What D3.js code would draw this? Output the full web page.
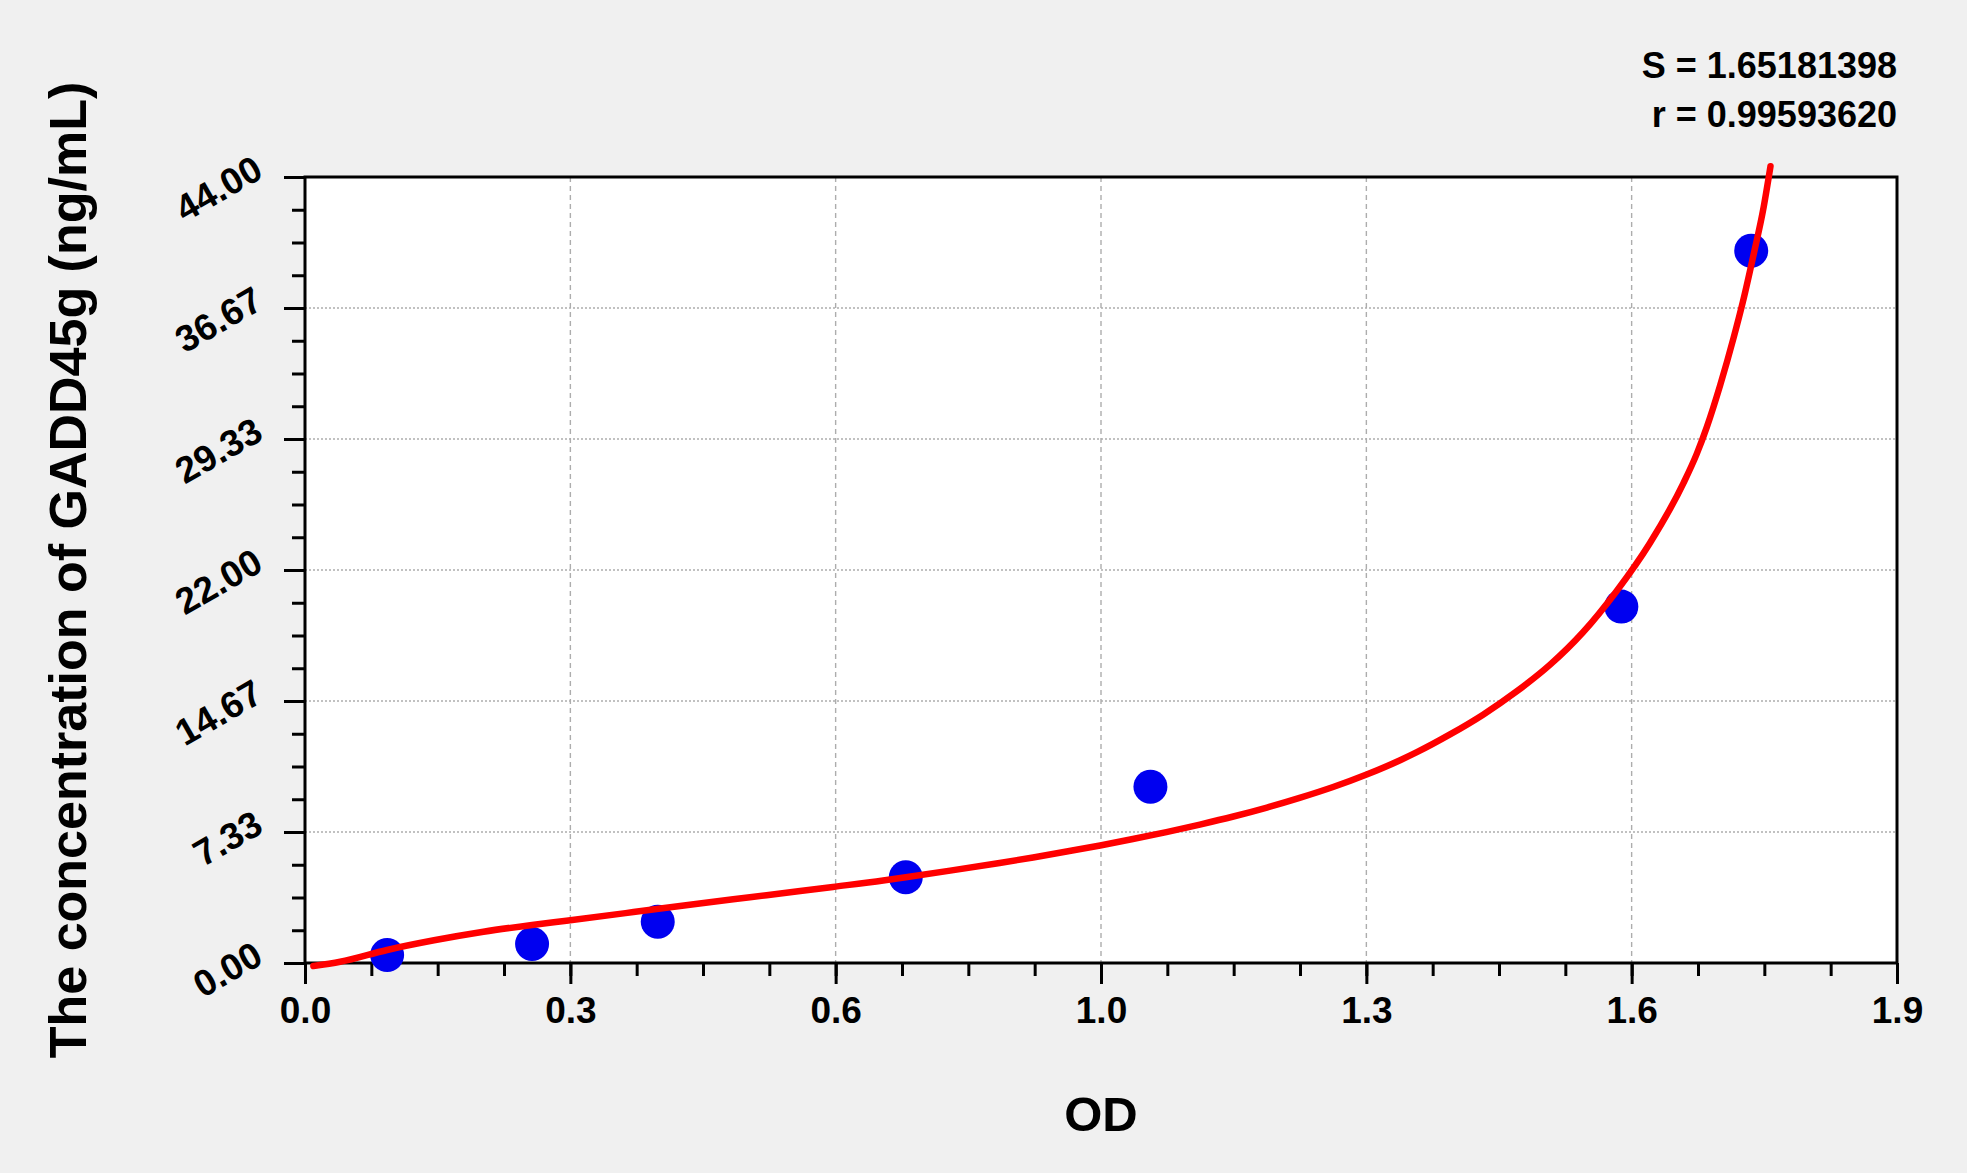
<!DOCTYPE html>
<html>
<head>
<meta charset="utf-8">
<script src="https://cdn.jsdelivr.net/npm/d3@7"></script>
<style>
    html, body { margin: 0; padding: 0; background: #f0f0f0; }
    svg { display: block; font-family: "Liberation Sans", Arial, sans-serif; font-weight: bold; }
</style>
</head>
<body>
<div id="chart"></div>
<script>
// standards (OD vs concentration)
const odValues = [0.098, 0.271, 0.421, 0.717, 1.009, 1.571, 1.726];
const concValues = [0.45, 1.06, 2.31, 4.80, 9.87, 19.95, 39.87];

// fitted curve
const curveOd = [0.010, 0.042, 0.098, 0.154, 0.213, 0.271, 0.312, 0.392, 0.471, 0.531,
    0.591, 0.630, 0.690, 0.717, 0.770, 0.829, 0.869, 0.909, 0.949, 0.988,
    1.028, 1.068, 1.108, 1.148, 1.187, 1.227, 1.267, 1.307, 1.327, 1.366,
    1.406, 1.446, 1.486, 1.525, 1.565, 1.605, 1.645, 1.661, 1.673, 1.689,
    1.705, 1.716, 1.730, 1.740, 1.749];
const curveConc = [-0.17, 0.07, 0.73, 1.27, 1.75, 2.13, 2.37, 2.85, 3.33, 3.68,
    4.03, 4.26, 4.62, 4.80, 5.17, 5.60, 5.91, 6.24, 6.58, 6.94,
    7.33, 7.75, 8.20, 8.70, 9.24, 9.85, 10.55, 11.35, 11.80, 12.78,
    13.90, 15.20, 16.70, 18.50, 20.80, 23.50, 26.85, 28.50, 30.00, 32.35,
    35.00, 37.00, 39.90, 42.10, 44.60];

const xTicks = [0, 0.3167, 0.6333, 0.95, 1.2667, 1.5833, 1.9];
const xTickLabels = ['0.0', '0.3', '0.6', '1.0', '1.3', '1.6', '1.9'];
const yTicks = [0, 7.333, 14.667, 22, 29.333, 36.667, 44];
const yTickLabels = ['0.00', '7.33', '14.67', '22.00', '29.33', '36.67', '44.00'];

const statLines = ['S = 1.65181398', 'r = 0.99593620'];
const xTitle = 'OD';
const yTitle = 'The concentration of GADD45g (ng/mL)';

const width = 1967,
    height = 1173,
    margin = {top: 177, right: 70, bottom: 210, left: 305},
    plotW = width - margin.left - margin.right,
    plotH = height - margin.top - margin.bottom;

const svg = d3.select('#chart').append('svg')
    .attr('width', width)
    .attr('height', height);

const x = d3.scaleLinear().domain([0, 1.9]).range([0, plotW]);
const y = d3.scaleLinear().domain([0, 44]).range([plotH, 0]);

const g = svg.append('g')
    .attr('transform', 'translate(' + margin.left + ',' + margin.top + ')');

g.append('rect')
    .attr('width', plotW)
    .attr('height', plotH)
    .attr('fill', '#fff');

// grid
g.append('g').selectAll('line')
    .data(xTicks.slice(1, -1))
    .join('line')
    .attr('x1', d => x(d)).attr('x2', d => x(d))
    .attr('y1', 0).attr('y2', plotH)
    .attr('stroke', '#adadad')
    .attr('stroke-width', 1.4)
    .attr('stroke-dasharray', '5,4');

g.append('g').selectAll('line')
    .data(yTicks.slice(1, -1))
    .join('line')
    .attr('y1', d => y(d)).attr('y2', d => y(d))
    .attr('x1', 0).attr('x2', plotW)
    .attr('stroke', '#adadad')
    .attr('stroke-width', 1.4)
    .attr('stroke-dasharray', '2,2');

// minor ticks, 4 steps per major interval
const xMinor = d3.range(25).map(i => 1.9 * i / 24);
const yMinor = d3.range(25).map(i => 44 * i / 24);

g.append('g')
    .attr('transform', 'translate(0,' + plotH + ')')
    .call(d3.axisBottom(x).tickValues(xMinor).tickSize(13).tickFormat(''))
    .call(a => a.select('.domain').remove())
    .call(a => a.selectAll('line').attr('stroke-width', 3));

g.append('g')
    .call(d3.axisLeft(y).tickValues(yMinor).tickSize(13).tickFormat(''))
    .call(a => a.select('.domain').remove())
    .call(a => a.selectAll('line').attr('stroke-width', 3));

// major ticks + labels
g.append('g')
    .attr('transform', 'translate(0,' + plotH + ')')
    .call(d3.axisBottom(x).tickValues(xTicks).tickSize(21).tickPadding(13)
        .tickFormat((d, i) => xTickLabels[i]))
    .call(a => a.select('.domain').remove())
    .call(a => a.selectAll('line').attr('stroke-width', 3))
    .call(a => a.selectAll('text')
        .attr('font-size', 37)
        .attr('fill', '#000'));

g.append('g')
    .call(d3.axisLeft(y).tickValues(yTicks).tickSize(21)
        .tickFormat((d, i) => yTickLabels[i]))
    .call(a => a.select('.domain').remove())
    .call(a => a.selectAll('line').attr('stroke-width', 3))
    .call(a => a.selectAll('text')
        .attr('x', 0)
        .attr('dy', 0)
        .attr('transform', 'translate(-40,-1) rotate(-30)')
        .attr('font-size', 37)
        .attr('fill', '#000'));

// frame
g.append('rect')
    .attr('width', plotW)
    .attr('height', plotH)
    .attr('fill', 'none')
    .attr('stroke', '#000')
    .attr('stroke-width', 3);

// standards
g.append('g').selectAll('circle')
    .data(odValues)
    .join('circle')
    .attr('cx', d => x(d))
    .attr('cy', (d, i) => y(concValues[i]))
    .attr('r', 17)
    .attr('fill', '#0000f0');

// fitted curve
const line = d3.line()
    .x(d => x(d[0]))
    .y(d => y(d[1]))
    .curve(d3.curveMonotoneX);

g.append('path')
    .datum(curveOd.map((d, i) => [d, curveConc[i]]))
    .attr('d', line)
    .attr('fill', 'none')
    .attr('stroke', '#ff0000')
    .attr('stroke-width', 6.5)
    .attr('stroke-linecap', 'round');

// stats
svg.append('g').selectAll('text')
    .data(statLines)
    .join('text')
    .attr('x', margin.left + plotW)
    .attr('y', (d, i) => 78 + i * 49)
    .attr('text-anchor', 'end')
    .attr('font-size', 36)
    .text(d => d);

// axis titles
svg.append('text')
    .attr('x', margin.left + plotW / 2)
    .attr('y', 1131)
    .attr('text-anchor', 'middle')
    .attr('font-size', 49)
    .text(xTitle);

svg.append('text')
    .attr('transform', 'translate(86,' + (margin.top + plotH / 2) + ') rotate(-90)')
    .attr('text-anchor', 'middle')
    .attr('font-size', 52)
    .text(yTitle);
</script>
</body>
</html>
